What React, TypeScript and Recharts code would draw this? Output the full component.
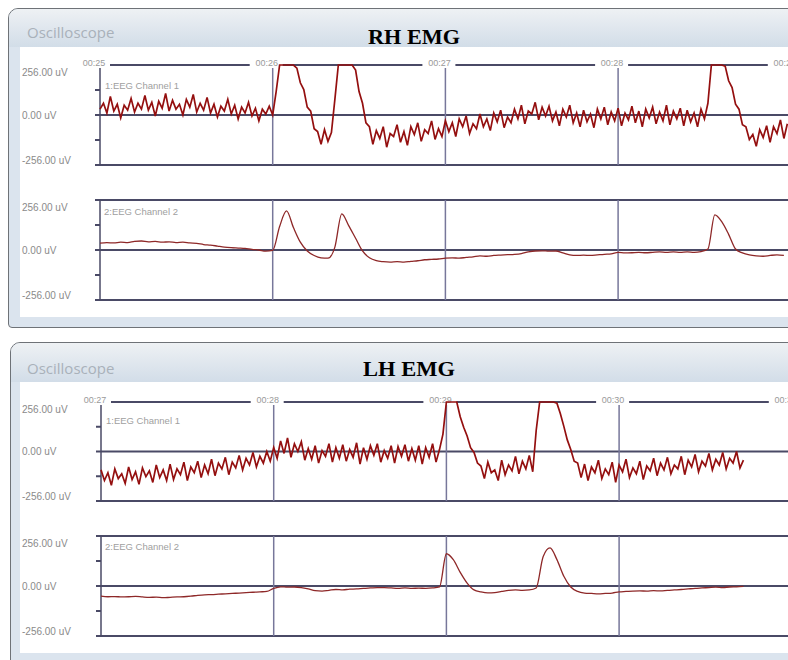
import React from "react"
import { LineChart, Line, XAxis, YAxis, ReferenceLine } from "recharts"

// sampling of the traces (seconds between samples)
const STEP_CH1 = 0.02
const STEP_CH2 = 0.04
const PX_PER_SEC = 172.7

const Y_TICKS = [256, 0, -256]
const Y_MINOR = [128, -128]

const RH_SECONDS = [25, 26, 27, 28, 29]
const RH_LABELS = ["00:25", "00:26", "00:27", "00:28", "00:29"]
const LH_SECONDS = [27, 28, 29, 30, 31]
const LH_LABELS = ["00:27", "00:28", "00:29", "00:30", "00:31"]

// RH EMG, channel 1 (uV), from 00:25
const RH_CH1 = [
  30, 60, 10, 95, 20, 55, -15, 50, 25, 85,
  15, 60, 30, 100, 25, 65, -5, 70, 35, 110,
  20, 75, 30, 55, 0, 80, 40, 105, 15, 60,
  25, 90, 10, 55, -10, 45, 20, 80, 5, 50,
  -20, 40, 10, 65, -5, 35, -30, 30, 5, 45,
  0, 120, 256, 256, 256, 256, 256, 240, 165, 130,
  40, 20, -70, -85, -150, -75, -135, -90, 80, 256,
  256, 256, 256, 256, 230, 120, 60, -40, -60, -150,
  -80, -120, -60, -165, -95, -110, -50, -140, -85, -155,
  -60, -100, -40, -135, -75, -95, -30, -125, -70, -110,
  -30, -85, -40, -110, -20, -60, -5, -95, -45, -70,
  5, -60, -20, -80, 10, -35, 25, -65, -10, -40,
  30, -20, 50, -45, 20, 5, 65, -25, 40, -5,
  45, -30, 15, -55, 30, -10, 50, -40, 10, -60,
  25, -35, 5, -65, 30, -20, 40, -50, 15, -30,
  35, -55, 10, -25, 45, -40, 20, -60, 30, -15,
  40, -45, 15, -30, 50, -50, 20, -20, 35, -55,
  25, -35, 10, -60, 30, -20, 60, 256, 256, 256,
  256, 250, 175, 140, 55, 30, -50, -60, -125, -100,
  -160, -75, -115, -55, -140, -60, -95, -25, -120, -45,
]

// RH EMG, channel 2 (uV)
const RH_CH2 = [
  35, 38, 36, 40, 38, 44, 46, 42, 44, 40,
  42, 38, 40, 36, 34, 28, 25, 20, 15, 12,
  10, 8, 3, 0, -6, -2, 120, 200, 115, 40,
  -5, -28, -40, -42, 15, 185, 125, 60, -5, -40,
  -55, -60, -62, -60, -62, -58, -55, -50, -48, -46,
  -42, -40, -42, -38, -35, -30, -32, -28, -26, -24,
  -22, -18, -10, -5, -4, -6, -5, -15, -25, -28,
  -26, -28, -25, -22, -20, -12, -15, -14, -12, -14,
  -12, -10, -12, -10, -12, -10, -12, -8, 5, 180,
  145, 80, 5, -15, -25, -30, -32, -28, -25, -28,
]

// LH EMG, channel 1 (uV), from 00:27
const LH_CH1 = [
  -95, -150, -110, -175, -90, -140, -115, -165, -80, -145,
  -105, -170, -85, -130, -100, -160, -70, -135, -95, -150,
  -65, -145, -90, -120, -55, -150, -80, -110, -50, -135,
  -70, -115, -40, -125, -60, -90, -30, -120, -55, -85,
  -20, -95, -35, -70, -5, -80, -25, -60, 0, -50,
  20, -35, 55, -10, 70, -30, 40, 0, 50, -45,
  15, -40, 30, -60, 5, -25, 40, -55, 20, -35,
  35, -50, 10, -30, 45, -65, 20, -40, 30, -20,
  40, -55, 5, -35, 30, -60, 25, -25, 35, -50,
  15, -45, 30, -65, 20, -30, 40, -55, 10, 90,
  256, 256, 256, 256, 180, 125, 80, 20, -5, -60,
  -75, -140, -55, -110, -95, -150, -45, -120, -70, -100,
  -25, -115, -50, -90, -20, -105, 110, 256, 256, 256,
  256, 256, 250, 195, 130, 60, 10, -50, -60, -135,
  -65, -150, -80, -110, -45, -140, -90, -120, -55, -160,
  -70, -105, -40, -135, -85, -115, -50, -145, -75, -100,
  -35, -125, -60, -95, -30, -115, -70, -90, -25, -120,
  -45, -80, -15, -105, -50, -75, -10, -95, -40, -70,
  -5, -90, -35, -60, 0, -85, -45,
]

// LH EMG, channel 2 (uV)
const LH_CH2 = [
  -52, -55, -54, -56, -55, -53, -56, -58, -57, -60,
  -58, -56, -55, -52, -48, -45, -44, -42, -40, -38,
  -36, -34, -32, -30, -28, -12, -4, -6, -5, -8,
  -15, -24, -26, -22, -18, -20, -16, -15, -12, -10,
  -8, -8, -10, -12, -10, -12, -11, -12, -10, -5,
  165, 135, 70, 15, -20, -30, -35, -34, -28, -22,
  -20, -22, -20, -10, 150, 195, 135, 50, -5, -28,
  -36, -38, -40, -38, -36, -30, -28, -26, -25, -26,
  -24, -25, -22, -20, -18, -15, -12, -10, -8, -6,
  -8, -5, -4, -2,
]

const LINE = "#4a4a66"
const GRID = "#77779a"
const SANS = "'Liberation Sans', Arial, sans-serif"

function YTick(props: any) {
  const { y, payload } = props
  const v = payload.value
  const dy = v > 0 ? 10.5 : v < 0 ? -1.5 : 3.5
  return (
    <text x={22} y={y + dy} fontSize={10} fill="#8a8a8a" fontFamily={SANS}>
      {v.toFixed(2)} uV
    </text>
  )
}

function TimeLabel(props: any) {
  const { viewBox, text } = props
  const x = viewBox.x
  const y = viewBox.y
  return (
    <g>
      <rect x={x - 23} y={y - 9} width={33} height={12} fill="#fff" />
      <text x={x - 6} y={y + 1} textAnchor="middle" fontSize={9} fill="#9a9a9a" fontFamily={SANS}>
        {text}
      </text>
    </g>
  )
}

type ChannelProps = {
  top: number
  bottom: number
  t0: number
  axisX: number
  values: number[]
  step: number
  seconds: number[]
  labels?: string[]
  smooth?: boolean
}

function Channel({ top, bottom, t0, axisX, values, step, seconds, labels, smooth }: ChannelProps) {
  const data = values.map((v, i) => ({ t: t0 + i * step, v }))
  const x0 = t0 - 5 / PX_PER_SEC
  const x1 = t0 + (788 - axisX) / PX_PER_SEC
  const pad = 15
  return (
    <div style={{ position: "absolute", left: 0, top: top - pad }}>
      <LineChart
        width={788}
        height={bottom - top + 2 * pad}
        data={data}
        margin={{ top: pad, right: 0, bottom: pad, left: 22 }}
      >
        <XAxis dataKey="t" type="number" domain={[x0, x1]} hide />
        <YAxis
          type="number"
          domain={[-256, 256]}
          ticks={Y_TICKS}
          width={axisX - 5 - 22}
          axisLine={false}
          tickLine={false}
          tick={<YTick />}
        />
        {Y_TICKS.map((y) => (
          <ReferenceLine key={"h" + y} y={y} stroke={LINE} strokeWidth={2} />
        ))}
        {Y_MINOR.map((y) => (
          <ReferenceLine
            key={"m" + y}
            segment={[
              { x: x0, y },
              { x: t0, y },
            ]}
            stroke={LINE}
            strokeWidth={2}
          />
        ))}
        {seconds.map((s, i) => (
          <ReferenceLine
            key={"v" + s}
            x={s}
            stroke={i === 0 ? LINE : GRID}
            strokeWidth={1.5}
            ifOverflow="visible"
            label={labels ? <TimeLabel text={labels[i]} /> : undefined}
          />
        ))}
        <Line
          type={smooth ? "monotone" : "linear"}
          dataKey="v"
          stroke={smooth ? "#8e2828" : "#940f0f"}
          strokeWidth={smooth ? 1.3 : 1.7}
          dot={false}
          isAnimationActive={false}
        />
      </LineChart>
    </div>
  )
}

function Panel({ top, left, height, whiteTop, whiteBottom }: any) {
  return (
    <div
      style={{
        position: "absolute",
        left,
        top,
        width: 800,
        height,
        boxSizing: "border-box",
        border: "1.5px solid #6e7277",
        borderRadius: "10px 0 0 4px",
        background: "#dbe4ee",
        overflow: "hidden",
      }}
    >
      <div
        style={{
          position: "absolute",
          left: 0,
          top: 0,
          right: 0,
          height: whiteTop - top - 1.5,
          background: "linear-gradient(to bottom, #eef1f4, #d2dde8)",
        }}
      />
      <div
        style={{
          position: "absolute",
          left: 20 - left - 1.5,
          top: whiteTop - top - 1.5,
          right: 0,
          height: whiteBottom - whiteTop,
          background: "#ffffff",
        }}
      />
    </div>
  )
}

export default function App() {
  return (
    <div
      style={{
        position: "absolute",
        left: 0,
        top: 0,
        width: 788,
        height: 660,
        overflow: "hidden",
        background: "#ffffff",
      }}
    >
      <Panel top={8} left={8} height={320} whiteTop={47} whiteBottom={317} />
      <Panel top={341.5} left={9.5} height={340} whiteTop={382} whiteBottom={653} />

      <Channel top={65} bottom={165} t0={25} axisX={100} values={RH_CH1} step={STEP_CH1} seconds={RH_SECONDS} labels={RH_LABELS} />
      <Channel top={200} bottom={300} t0={25} axisX={100} values={RH_CH2} step={STEP_CH2} seconds={RH_SECONDS} smooth />
      <Channel top={401.5} bottom={500.5} t0={27} axisX={101} values={LH_CH1} step={STEP_CH1} seconds={LH_SECONDS} labels={LH_LABELS} />
      <Channel top={536} bottom={636} t0={27} axisX={101} values={LH_CH2} step={STEP_CH2} seconds={LH_SECONDS} smooth />

      <svg width={788} height={660} style={{ position: "absolute", left: 0, top: 0, pointerEvents: "none" }}>
        <text x={27} y={38.4} fontSize={15} fill="#a9b1ba" fontFamily="'Open Sans', sans-serif">
          Oscilloscope
        </text>
        <text x={368} y={44} fontSize={20} fontWeight="bold" fill="#000" fontFamily="'Liberation Serif', 'Times New Roman', serif" textLength={92} lengthAdjust="spacingAndGlyphs">
          RH EMG
        </text>
        <text x={27} y={374} fontSize={15} fill="#a9b1ba" fontFamily="'Open Sans', sans-serif">
          Oscilloscope
        </text>
        <text x={363} y={376} fontSize={20} fontWeight="bold" fill="#000" fontFamily="'Liberation Serif', 'Times New Roman', serif" textLength={92} lengthAdjust="spacingAndGlyphs">
          LH EMG
        </text>
        <text x={105} y={88.5} fontSize={9.5} fill="#a0a0a0" fontFamily={SANS}>1:EEG Channel 1</text>
        <text x={104} y={215} fontSize={9.5} fill="#a0a0a0" fontFamily={SANS}>2:EEG Channel 2</text>
        <text x={106} y={423.5} fontSize={9.5} fill="#a0a0a0" fontFamily={SANS}>1:EEG Channel 1</text>
        <text x={105} y={550} fontSize={9.5} fill="#a0a0a0" fontFamily={SANS}>2:EEG Channel 2</text>
      </svg>
    </div>
  )
}
